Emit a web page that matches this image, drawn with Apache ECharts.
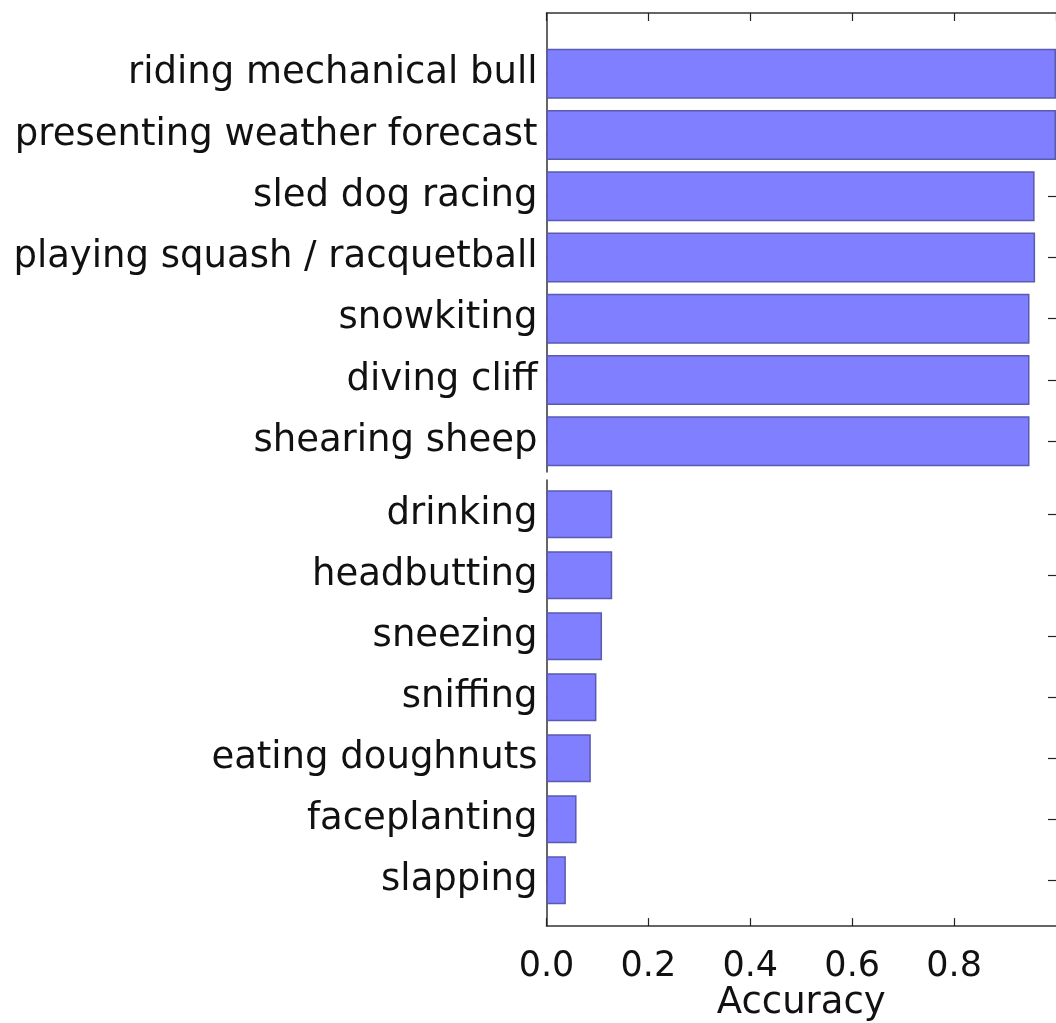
<!DOCTYPE html>
<html>
<head>
<meta charset="utf-8">
<script src="https://cdn.jsdelivr.net/npm/echarts@6/dist/echarts.min.js"></script>
<style>
html,body{margin:0;padding:0;background:#fff;overflow:hidden;}
#chart{width:1056px;height:1023px;}
</style>
</head>
<body>
<div id="chart"></div>
<script>
const topCategories = ['riding mechanical bull','presenting weather forecast','sled dog racing','playing squash / racquetball','snowkiting','diving cliff','shearing sheep'];
const topValues = [1.0, 1.0, 0.958, 0.959, 0.948, 0.948, 0.948];
const bottomCategories = ['drinking','headbutting','sneezing','sniffing','eating doughnuts','faceplanting','slapping'];
const bottomValues = [0.129, 0.129, 0.109, 0.098, 0.087, 0.059, 0.038];
const xMin = 0, xMax = 1.0, xInterval = 0.2;
const xLabel = 'Accuracy';

const FONT = 'DejaVu Sans';
const FS = 37;
const TICK_FS = 35;
const TXT = '#111';
const SPINE = { color: '#333', width: 1.5 };
const L = 546.5, W = 514;

function frameX(gridIndex, position, showLabels) {
  return {
    type: 'value', gridIndex, position, min: xMin, max: xMax, interval: xInterval,
    axisLine: { show: true, onZero: false, lineStyle: SPINE },
    axisTick: { show: true, inside: true, length: 8, lineStyle: { color: '#222', width: 1.2 } },
    axisLabel: showLabels ? {
      show: true, fontFamily: FONT, fontSize: TICK_FS, color: TXT, margin: 23,
      showMaxLabel: false, formatter: v => v.toFixed(1)
    } : { show: false },
    splitLine: { show: false },
    name: showLabels ? xLabel : '',
    nameLocation: 'middle', nameGap: 54,
    nameTextStyle: { fontFamily: FONT, fontSize: FS, color: TXT }
  };
}
function hiddenX(gridIndex) {
  return { type: 'value', gridIndex, min: xMin, max: xMax, interval: xInterval, show: false };
}
function frameY(gridIndex, position, showLine) {
  return {
    type: 'value', gridIndex, position, min: 0, max: 1,
    axisLine: { show: showLine, onZero: false, lineStyle: SPINE },
    axisTick: { show: false }, axisLabel: { show: false }, splitLine: { show: false }
  };
}
function catY(gridIndex, position, cats, labels) {
  return {
    type: 'category', gridIndex, position, data: cats, inverse: true,
    axisLine: { show: false },
    axisTick: { show: true, inside: true, length: 8, alignWithLabel: true, lineStyle: { color: '#222', width: 1.2 } },
    axisLabel: labels ? { show: true, fontFamily: FONT, fontSize: FS, color: TXT, margin: 9 } : { show: false },
    splitLine: { show: false }
  };
}
const barStyle = { color: '#7f7fff', borderColor: '#5a5ab0', borderWidth: 1.5 };

const option = {
  backgroundColor: '#fff',
  animation: false,
  grid: [
    { left: L, top: 13, width: W, height: 459 },
    { left: L, top: 43.1, width: W, height: 428.75 },
    { left: L, top: 480, width: W, height: 450 },
    { left: L, top: 483.7, width: W, height: 427 }
  ],
  xAxis: [
    frameX(0, 'top', false),
    hiddenX(1),
    frameX(2, 'bottom', true),
    hiddenX(3)
  ],
  yAxis: [
    frameY(0, 'left', true),
    frameY(0, 'right', false),
    catY(1, 'left', topCategories, true),
    catY(1, 'right', topCategories, false),
    frameY(2, 'left', true),
    frameY(2, 'right', false),
    catY(3, 'left', bottomCategories, true),
    catY(3, 'right', bottomCategories, false)
  ],
  series: [
    { type: 'bar', xAxisIndex: 1, yAxisIndex: 2, data: topValues, barWidth: 50, itemStyle: barStyle, silent: true },
    { type: 'bar', xAxisIndex: 3, yAxisIndex: 6, data: bottomValues, barWidth: 48, itemStyle: barStyle, silent: true }
  ]
};
const chart = echarts.init(document.getElementById('chart'), null, { renderer: 'canvas' });
chart.setOption(option);
</script>
</body>
</html>
